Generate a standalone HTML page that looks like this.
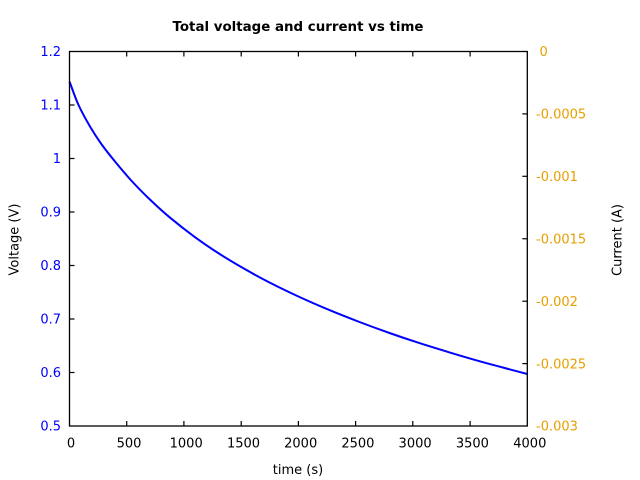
<!DOCTYPE html>
<html>
<head>
<meta charset="utf-8">
<style>
  html,body{margin:0;padding:0;background:#fff;}
  svg{display:block;}
  text{font-family:"DejaVu Sans","Liberation Sans",sans-serif;font-size:13px;}
</style>
</head>
<body>
<svg width="640" height="480" viewBox="0 0 640 480" xmlns="http://www.w3.org/2000/svg">
  <rect x="0" y="0" width="640" height="480" fill="#fff"/>

  <!-- Title -->
  <text x="298" y="31" text-anchor="middle" font-weight="bold" textLength="251" lengthAdjust="spacingAndGlyphs">Total voltage and current vs time</text>

  <!-- Curve -->
  <path fill="none" stroke="#0000ff" stroke-width="2" stroke-linejoin="round"
    d="M69.5,81.5 C72.43,89.17 74.88,97 78.3,104.5
       C81.72,112 86.1,119.83 90,126.5
       C93.9,133.17 97.53,138.67 101.7,144.5
       C105.87,150.33 110,155.42 115,161.5
       C120,167.58 125.95,174.73 131.7,181
       C137.45,187.27 143.2,193.07 149.5,199.1
       C155.8,205.13 162,210.92 169.5,217.2
       C177,223.48 186.17,230.68 194.5,236.8
       C202.83,242.92 211.17,248.55 219.5,253.9
       C227.83,259.25 236.17,264.13 244.5,268.9
       C252.83,273.67 260.33,277.82 269.5,282.5
       C278.67,287.18 289.5,292.4 299.5,297
       C309.5,301.6 319.5,305.93 329.5,310.1
       C339.5,314.27 349.5,318.18 359.5,322
       C369.5,325.82 379.5,329.48 389.5,333
       C399.5,336.52 409.5,339.87 419.5,343.1
       C429.5,346.33 439.5,349.38 449.5,352.4
       C459.5,355.42 469.5,358.38 479.5,361.2
       C489.5,364.02 501.53,367.17 509.5,369.3
       C517.47,371.43 521.37,372.43 527.3,374"/>

  <!-- Frame -->
  <rect x="69.5" y="51.5" width="457.8" height="374.5" fill="none" stroke="#000" stroke-width="1.3"/>

  <!-- Ticks -->
  <g stroke="#000" stroke-width="1.2">
    <line x1="126.7" y1="426" x2="126.7" y2="421"/>
    <line x1="183.9" y1="426" x2="183.9" y2="421"/>
    <line x1="241.2" y1="426" x2="241.2" y2="421"/>
    <line x1="298.4" y1="426" x2="298.4" y2="421"/>
    <line x1="355.6" y1="426" x2="355.6" y2="421"/>
    <line x1="412.8" y1="426" x2="412.8" y2="421"/>
    <line x1="470.1" y1="426" x2="470.1" y2="421"/>
    <line x1="126.7" y1="51.5" x2="126.7" y2="56.5"/>
    <line x1="183.9" y1="51.5" x2="183.9" y2="56.5"/>
    <line x1="241.2" y1="51.5" x2="241.2" y2="56.5"/>
    <line x1="298.4" y1="51.5" x2="298.4" y2="56.5"/>
    <line x1="355.6" y1="51.5" x2="355.6" y2="56.5"/>
    <line x1="412.8" y1="51.5" x2="412.8" y2="56.5"/>
    <line x1="470.1" y1="51.5" x2="470.1" y2="56.5"/>
    <line x1="69.5" y1="105" x2="74.5" y2="105"/>
    <line x1="69.5" y1="158.5" x2="74.5" y2="158.5"/>
    <line x1="69.5" y1="212" x2="74.5" y2="212"/>
    <line x1="69.5" y1="265.5" x2="74.5" y2="265.5"/>
    <line x1="69.5" y1="319" x2="74.5" y2="319"/>
    <line x1="69.5" y1="372.5" x2="74.5" y2="372.5"/>
    <line x1="527.3" y1="113.9" x2="522.3" y2="113.9"/>
    <line x1="527.3" y1="176.3" x2="522.3" y2="176.3"/>
    <line x1="527.3" y1="238.75" x2="522.3" y2="238.75"/>
    <line x1="527.3" y1="301.2" x2="522.3" y2="301.2"/>
    <line x1="527.3" y1="363.6" x2="522.3" y2="363.6"/>
  </g>

  <!-- Left tick labels -->
  <g fill="#0000ff" text-anchor="end">
    <text x="61" y="56.2">1.2</text>
    <text x="61" y="109.7">1.1</text>
    <text x="61" y="163.2">1</text>
    <text x="61" y="216.7">0.9</text>
    <text x="61" y="270.2">0.8</text>
    <text x="61" y="323.7">0.7</text>
    <text x="61" y="377.2">0.6</text>
    <text x="61" y="430.7">0.5</text>
  </g>

  <!-- Right tick labels -->
  <g fill="#e69f00" text-anchor="start">
    <text x="539.5" y="56.2">0</text>
    <text x="536" y="118.6">-0.0005</text>
    <text x="536" y="181">-0.001</text>
    <text x="536" y="243.4">-0.0015</text>
    <text x="536" y="305.9">-0.002</text>
    <text x="536" y="368.3">-0.0025</text>
    <text x="536" y="430.7">-0.003</text>
  </g>

  <!-- X tick labels -->
  <g fill="#000" text-anchor="middle">
    <text x="71" y="447.7">0</text>
    <text x="129" y="447.7">500</text>
    <text x="186.2" y="447.7">1000</text>
    <text x="243.5" y="447.7">1500</text>
    <text x="300.7" y="447.7">2000</text>
    <text x="357.9" y="447.7">2500</text>
    <text x="415.1" y="447.7">3000</text>
    <text x="472.4" y="447.7">3500</text>
    <text x="529.8" y="447.7">4000</text>
  </g>

  <!-- Axis labels -->
  <text x="298" y="474" text-anchor="middle" fill="#000">time (s)</text>
  <text transform="translate(18.5,239.5) rotate(-90)" text-anchor="middle" fill="#000">Voltage (V)</text>
  <text transform="translate(621.5,240) rotate(-90)" text-anchor="middle" fill="#000">Current (A)</text>
</svg>
</body>
</html>
